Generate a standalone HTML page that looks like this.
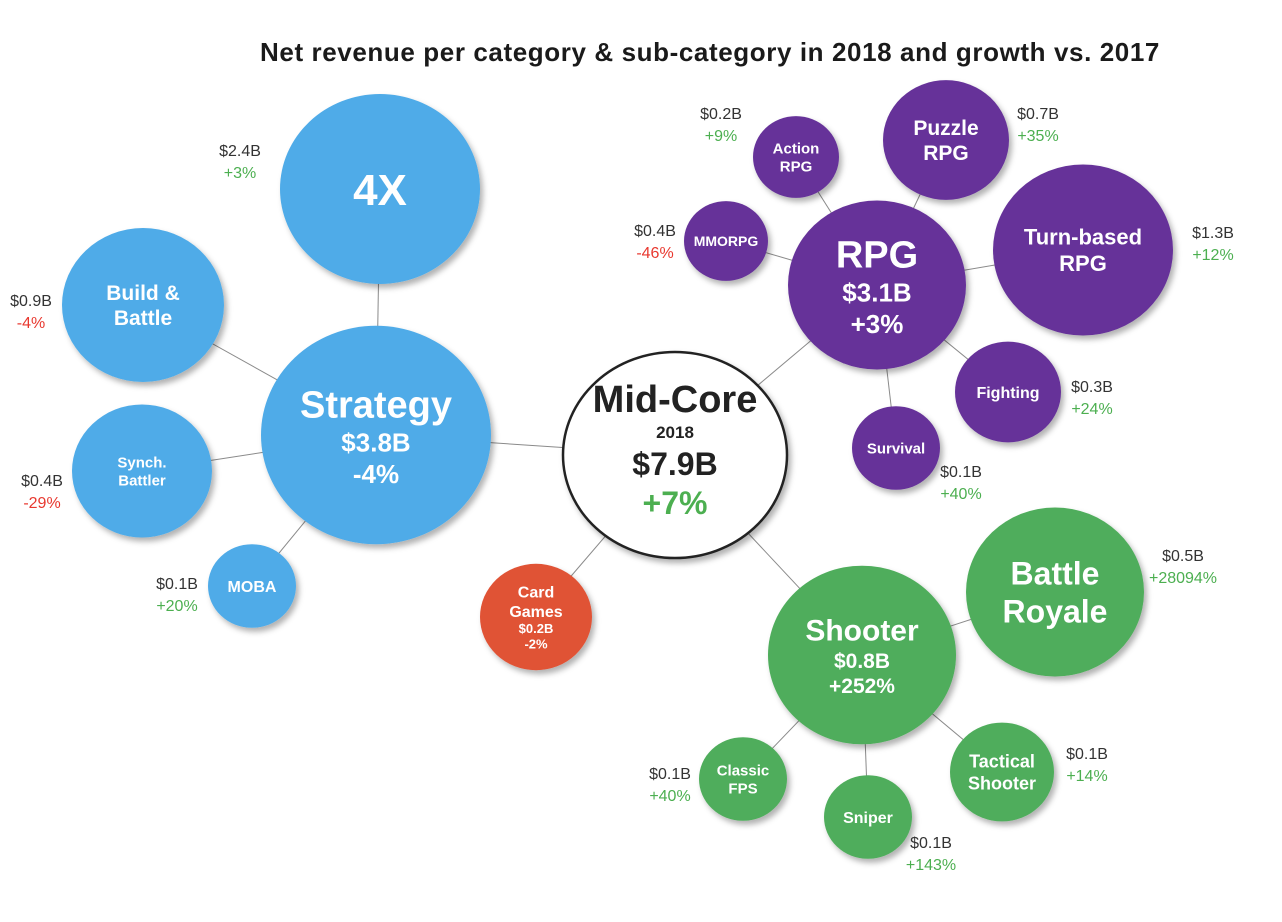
<!DOCTYPE html>
<html><head><meta charset="utf-8"><style>
html,body{margin:0;padding:0;background:#fff;}
svg{display:block;font-family:"Liberation Sans",Arial,sans-serif;}
</style></head><body>
<svg id="chart" width="1282" height="922" viewBox="0 0 1282 922" xmlns="http://www.w3.org/2000/svg">
<defs><filter id="sh" x="-20%" y="-20%" width="150%" height="150%"><feDropShadow dx="3" dy="4" stdDeviation="3" flood-color="#000" flood-opacity="0.3"/></filter></defs>
<text x="710" y="61" text-anchor="middle" font-size="26" font-weight="bold" letter-spacing="0.6" fill="#1a1a1a">Net revenue per category &amp; sub-category in 2018 and growth vs. 2017</text>
<g id="links"></g>
<g id="nodes"></g>
</svg>
<script>
// data
const names = ["Mid-Core","Strategy","4X","Build & Battle","Synch. Battler","MOBA","RPG","Action RPG","Puzzle RPG","MMORPG","Turn-based RPG","Fighting","Survival","Shooter","Battle Royale","Classic FPS","Sniper","Tactical Shooter","Card Games"];
const revenue = [7.9,3.8,2.4,0.9,0.4,0.1,3.1,0.2,0.7,0.4,1.3,0.3,0.1,0.8,0.5,0.1,0.1,0.1,0.2];
const growth = [7,-4,3,-4,-29,20,3,9,35,-46,12,24,40,252,28094,40,143,14,-2];
const parents = [-1,0,1,1,1,1,0,6,6,6,6,6,6,0,13,13,13,13,0];

// layout (not data)
const layout = [
 {x:675,y:455,r:112,fill:"#fff",lines:["Mid-Core"],fs:38,inner:"mid"},
 {x:376,y:435,r:115,fill:"#4FABE8",lines:["Strategy"],fs:38,inner:"big",vs:26},
 {x:380,y:189,r:100,fill:"#4FABE8",lines:["4X"],fs:44,lx:240,ly:150},
 {x:143,y:305,r:81,fill:"#4FABE8",lines:["Build &","Battle"],fs:21,lx:31,ly:300},
 {x:142,y:471,r:70,fill:"#4FABE8",lines:["Synch.","Battler"],fs:15,lx:42,ly:480},
 {x:252,y:586,r:44,fill:"#4FABE8",lines:["MOBA"],fs:16,lx:177,ly:583},
 {x:877,y:285,r:89,fill:"#663399",lines:["RPG"],fs:38,inner:"big",vs:26},
 {x:796,y:157,r:43,fill:"#663399",lines:["Action","RPG"],fs:15,lx:721,ly:113},
 {x:946,y:140,r:63,fill:"#663399",lines:["Puzzle","RPG"],fs:21,lx:1038,ly:113},
 {x:726,y:241,r:42,fill:"#663399",lines:["MMORPG"],fs:14,lx:655,ly:230},
 {x:1083,y:250,r:90,fill:"#663399",lines:["Turn-based","RPG"],fs:22,lx:1213,ly:232},
 {x:1008,y:392,r:53,fill:"#663399",lines:["Fighting"],fs:16,lx:1092,ly:386},
 {x:896,y:448,r:44,fill:"#663399",lines:["Survival"],fs:15,lx:961,ly:471},
 {x:862,y:655,r:94,fill:"#4FAD5B",lines:["Shooter"],fs:30,inner:"big",vs:21},
 {x:1055,y:592,r:89,fill:"#4FAD5B",lines:["Battle","Royale"],fs:32,lx:1183,ly:555},
 {x:743,y:779,r:44,fill:"#4FAD5B",lines:["Classic","FPS"],fs:15,lx:670,ly:773},
 {x:868,y:817,r:44,fill:"#4FAD5B",lines:["Sniper"],fs:16,lx:931,ly:842},
 {x:1002,y:772,r:52,fill:"#4FAD5B",lines:["Tactical","Shooter"],fs:18,lx:1087,ly:753},
 {x:536,y:617,r:56,fill:"#E05236",lines:["Card","Games"],fs:16,inner:"small",vs:13}
];
const NS="http://www.w3.org/2000/svg";
const links=document.getElementById('links'), nodes=document.getElementById('nodes');
function mk(tag,attrs,parent){const e=document.createElementNS(NS,tag);for(const k in attrs)e.setAttribute(k,attrs[k]);parent.appendChild(e);return e;}
const fmtV=v=>"$"+v.toFixed(1)+"B";
const fmtG=g=>(g>=0?"+":"")+g+"%";
const slug=s=>s.toLowerCase().replace(/[^a-z0-9]+/g,'-').replace(/-$/,'');
names.forEach((n,i)=>{
  const p=parents[i]; if(p<0) return;
  const a=layout[i], b=layout[p];
  const l=mk('line',{x1:a.x,y1:a.y,x2:b.x,y2:b.y,stroke:"#8a8a8a","stroke-width":1},links);
  
  
});
names.forEach((n,i)=>{
  const L=layout[i];
  const g=mk('g',{},nodes);
  
  
  const ry = L.fill==="#fff" ? 103 : L.r*0.95;
  const c=mk('ellipse',{cx:L.x,cy:L.y,rx:L.r,ry:ry,fill:L.fill,filter:"url(#sh)"},g);
  if(L.fill==="#fff"){c.setAttribute('stroke','#222');c.setAttribute('stroke-width','2.5');}
  
  
  let rows=[];
  if(L.inner==="mid"){
    rows=[[n,38,"#222",0],["2018",17,"#222",26],[fmtV(revenue[i]),32,"#222",37],[fmtG(growth[i]),32,"#4CAF50",39]];
    let y=L.y-43;
    rows.forEach(r=>{y+=r[3];const t=mk('text',{x:L.x,y:y,"text-anchor":"middle","font-size":r[1],"font-weight":"bold",fill:r[2]},g);t.textContent=r[0];});
    return;
  }
  const lh=L.fs*1.2;
  const items=L.lines.map(s=>[s,L.fs,lh]);
  if(L.inner){items.push([fmtV(revenue[i]),L.vs,L.vs*1.2]);items.push([fmtG(growth[i]),L.vs,L.vs*1.2]);}
  const total=items.reduce((s,it)=>s+it[2],0);
  let y=L.y-total/2;
  items.forEach(it=>{
    const t=mk('text',{x:L.x,y:y+it[2]*0.8,"text-anchor":"middle","font-size":it[1],"font-weight":"bold",fill:"#fff"},g);
    t.textContent=it[0];
    
    
    y+=it[2];
  });
  if(!L.inner){
    const t1=mk('text',{x:L.lx,y:L.ly+6,"text-anchor":"middle","font-size":16,fill:"#333"},nodes);
    t1.textContent=fmtV(revenue[i]);
    
    
    const t2=mk('text',{x:L.lx,y:L.ly+28,"text-anchor":"middle","font-size":16,fill:growth[i]>=0?"#4CAF50":"#E8382F"},nodes);
    t2.textContent=fmtG(growth[i]);
    
    
  }
});
</script>
</body></html>
